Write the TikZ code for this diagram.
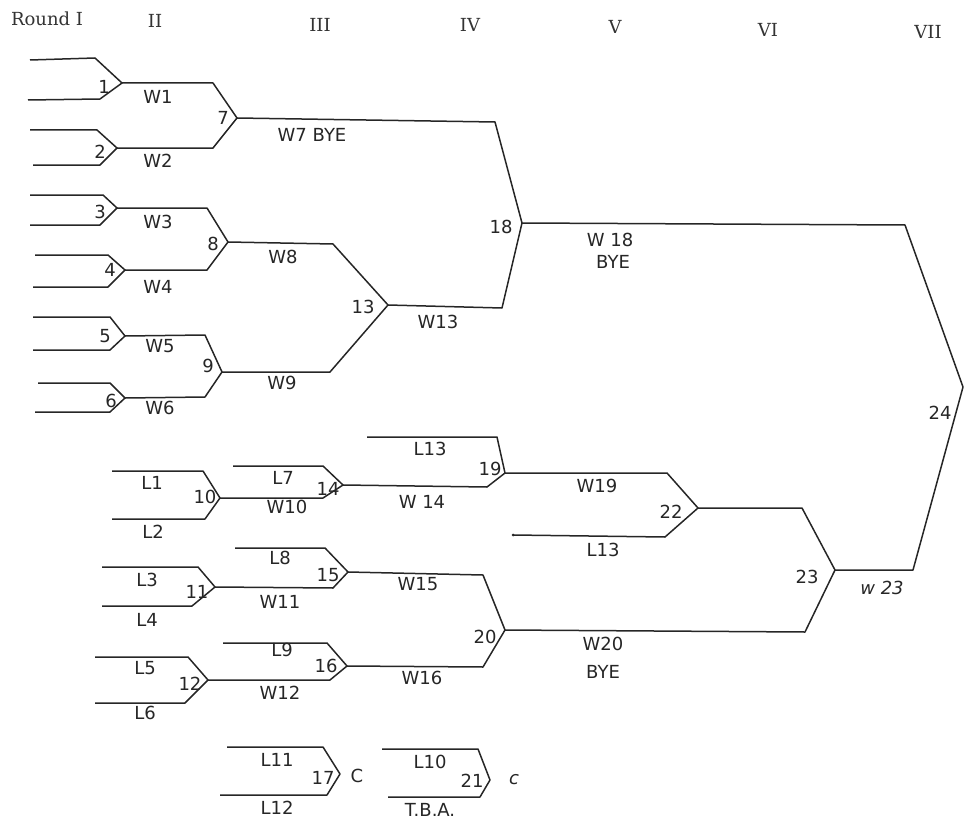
\documentclass[tikz,border=0pt]{standalone}
\usepackage{fontspec}
\newfontfamily\labfam{DejaVu Sans}
\newfontfamily\hdrfam{DejaVu Serif}
\begin{document}
\begin{tikzpicture}[x=1pt,y=-1pt,
  ln/.style={line width=1.5pt, draw=black!85, line join=round},
  lab/.style={font=\labfam\fontsize{18}{20}\selectfont, text=black!85, inner sep=0pt},
  num/.style={font=\labfam\fontsize{18}{20}\selectfont, text=black!85, inner sep=0pt},
  hdr/.style={font=\hdrfam\fontsize{18}{20}\selectfont, text=black!80, inner sep=0pt}]
\useasboundingbox (0,0) rectangle (966,824);
% headers
\node[hdr] (h1) at (47,19) {Round I};
\node[hdr] (h2) at (155,21) {II};
\node[hdr] (h3) at (320,25) {III};
\node[hdr] (h4) at (470,25) {IV};
\node[hdr] (h5) at (615,27) {V};
\node[hdr] (h6) at (768,30) {VI};
\node[hdr] (h7) at (928,32) {VII};
% match points
\coordinate (m1) at (122,83);
\coordinate (m2) at (117,148);
\coordinate (m3) at (117,208);
\coordinate (m4) at (125,270);
\coordinate (m5) at (125,336);
\coordinate (m6) at (125,398);
\coordinate (m7) at (237,118);
\coordinate (m8) at (228,242);
\coordinate (m9) at (222,372);
\coordinate (m10) at (220,498);
\coordinate (m11) at (215,587);
\coordinate (m12) at (208,680);
\coordinate (m13) at (388,305);
\coordinate (m14) at (343,485);
\coordinate (m15) at (348,572);
\coordinate (m16) at (347,666);
\coordinate (m17) at (340,774);
\coordinate (m18) at (522,223);
\coordinate (m19) at (505,473);
\coordinate (m20) at (505,630);
\coordinate (m21) at (490,780);
\coordinate (m22) at (698,508);
\coordinate (m23) at (835,570);
\coordinate (m24) at (963,387);
% round I
\draw[ln] (30,60) -- (95,58) -- (m1) -- (100,99) -- (28,100);
\draw[ln] (30,130) -- (97,130) -- (m2) -- (100,165) -- (33,165);
\draw[ln] (30,195) -- (103,195) -- (m3) -- (100,225) -- (30,225);
\draw[ln] (35,255) -- (108,255) -- (m4) -- (108,287) -- (33,287);
\draw[ln] (33,317) -- (110,317) -- (m5) -- (110,350) -- (33,350);
\draw[ln] (38,383) -- (110,383) -- (m6) -- (110,412) -- (35,412);
% round II
\draw[ln] (m1) -- (213,83) -- (m7) -- (213,148) -- (m2);
\draw[ln] (m3) -- (207,208) -- (m8) -- (207,270) -- (m4);
\draw[ln] (m5) -- (205,335) -- (m9) -- (205,397) -- (m6);
\draw[ln] (112,471) -- (203,471) -- (m10) -- (205,519) -- (112,519);
\draw[ln] (102,567) -- (198,567) -- (m11) -- (192,606) -- (102,606);
\draw[ln] (95,657) -- (188,657) -- (m12) -- (185,703) -- (95,703);
% round III
\draw[ln] (m8) -- (333,244) -- (m13) -- (330,372) -- (m9);
\draw[ln] (233,466) -- (323,466) -- (m14) -- (323,498) -- (m10);
\draw[ln] (235,548) -- (325,548) -- (m15) -- (333,588) -- (m11);
\draw[ln] (223,643) -- (327,643) -- (m16) -- (330,680) -- (m12);
\draw[ln] (227,747) -- (323,747) -- (m17) -- (327,795) -- (220,795);
% round IV
\draw[ln] (m7) -- (495,122) -- (m18) -- (502,308) -- (m13);
\draw[ln] (367,437) -- (497,437) -- (m19) -- (487,487) -- (m14);
\draw[ln] (m15) -- (483,575) -- (m20) -- (483,667) -- (m16);
\draw[ln] (382,749) -- (478,749) -- (m21) -- (480,797) -- (388,797);
% rounds V - VII
\coordinate (l13s) at (513,535);
\draw[ln] (m19) -- (667,473) -- (m22) -- (665,537) -- (l13s);
\fill[black!85] (l13s) circle (1.5);
\draw[ln] (m22) -- (802,508) -- (m23) -- (805,632) -- (m20);
\draw[ln] (m18) -- (905,225) -- (m24) -- (913,570) -- (m23);
% match numbers
\node[num] (n1) at (104,87) {1};
\node[num] (n2) at (100,152) {2};
\node[num] (n3) at (100,212) {3};
\node[num] (n4) at (110,270) {4};
\node[num] (n5) at (105,336) {5};
\node[num] (n6) at (111,401) {6};
\node[num] (n7) at (223,118) {7};
\node[num] (n8) at (213,244) {8};
\node[num] (n9) at (208,366) {9};
\node[num] (n10) at (205,497) {10};
\node[num] (n11) at (197,592) {11};
\node[num] (n12) at (190,684) {12};
\node[num] (n13) at (363,307) {13};
\node[num] (n14) at (328,489) {14};
\node[num] (n15) at (328,575) {15};
\node[num] (n16) at (326,666) {16};
\node[num] (n17) at (323,778) {17};
\node[num] (n18) at (501,227) {18};
\node[num] (n19) at (490,469) {19};
\node[num] (n20) at (485,637) {20};
\node[num] (n21) at (472,781) {21};
\node[num] (n22) at (671,512) {22};
\node[num] (n23) at (807,577) {23};
\node[num] (n24) at (940,413) {24};
% labels
\node[lab] (lw1) at (158,97) {W1};
\node[lab] (lw2) at (158,161) {W2};
\node[lab] (lw3) at (158,222) {W3};
\node[lab] (lw4) at (158,287) {W4};
\node[lab] (lw5) at (160,346) {W5};
\node[lab] (lw6) at (160,408) {W6};
\node[lab] (lw7) at (312,135) {W7 BYE};
\node[lab] (lw8) at (283,257) {W8};
\node[lab] (lw9) at (282,383) {W9};
\node[lab] (lw13) at (438,322) {W13};
\node[lab] (lw18) at (610,240) {W 18};
\node[lab] (lb18) at (613,262) {BYE};
\node[lab] (ll1) at (152,483) {L1};
\node[lab] (ll2) at (153,532) {L2};
\node[lab] (ll7) at (283,478) {L7};
\node[lab] (lw10) at (287,507) {W10};
\node[lab] (ll3) at (147,580) {L3};
\node[lab] (ll4) at (147,620) {L4};
\node[lab] (ll8) at (280,558) {L8};
\node[lab] (lw11) at (280,602) {W11};
\node[lab] (ll5) at (145,668) {L5};
\node[lab] (ll6) at (145,713) {L6};
\node[lab] (ll9) at (282,650) {L9};
\node[lab] (lw12) at (280,693) {W12};
\node[lab] (ll13a) at (430,449) {L13};
\node[lab] (lw14) at (422,502) {W 14};
\node[lab] (lw15) at (418,584) {W15};
\node[lab] (lw16) at (422,678) {W16};
\node[lab] (lw19) at (597,486) {W19};
\node[lab] (ll13b) at (603,550) {L13};
\node[lab] (lw20) at (603,644) {W20};
\node[lab] (lb20) at (603,672) {BYE};
\node[lab,font=\labfam\itshape\fontsize{18}{20}\selectfont] (lw23) at (882,588) {w 23};
\node[lab] (ll11) at (277,760) {L11};
\node[lab] (ll12) at (277,808) {L12};
\node[lab] (lc17) at (357,776) {C};
\node[lab] (ll10) at (430,762) {L10};
\node[lab] (ltba) at (430,810) {T.B.A.};
\node[lab,font=\labfam\itshape\fontsize{18}{20}\selectfont] (lc21) at (514,780) {c};
\end{tikzpicture}
\end{document}
